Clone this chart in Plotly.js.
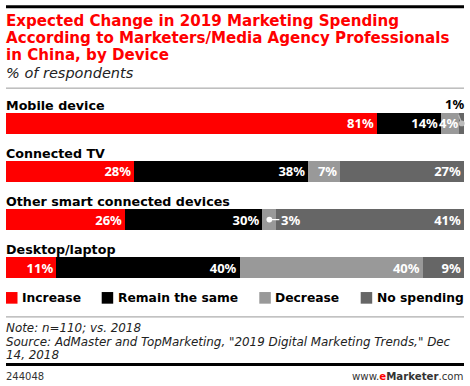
<!DOCTYPE html>
<html><head><meta charset="utf-8">
<script src="https://cdn.plot.ly/plotly-3.0.1.min.js"></script>
<style>html,body{margin:0;padding:0;background:#fff;overflow:hidden}#chart{width:470px;height:386px}</style>
</head><body><div id="chart"></div>
<script>
// ---- data ----
const categories = ["Mobile device", "Connected TV", "Other smart connected devices", "Desktop/laptop"];
const seriesNames = ["Increase", "Remain the same", "Decrease", "No spending"];
const increase   = [81, 28, 26, 11];
const remainSame = [14, 38, 30, 40];
const decrease   = [4, 7, 3, 40];
const noSpending = [1, 27, 41, 9];
const titleLines = ["Expected Change in 2019 Marketing Spending",
                    "According to Marketers/Media Agency Professionals",
                    "in China, by Device"];
const subtitle = "% of respondents";
const noteLines = ["Note: n=110; vs. 2018",
                   "Source: AdMaster and TopMarketing, \"2019 Digital Marketing Trends,\" Dec",
                   "14, 2018"];
const chartId = "244048";

// ---- style ----
const seriesColors = ["#ff0000", "#000000", "#999999", "#666666"];
const series = [increase, remainSame, decrease, noSpending];
const FONT = "DejaVu Sans";
const NUMFONT = "Noto Sans";
// labels placed by annotation: key "seriesIndex-categoryIndex"
const callouts = {
  "3-0": {arrow: true, ax: -7, ay: -19, color: "#000000", line: "#bbbbbb"},
  "2-2": {arrow: true, ax: 21, ay: 0, color: "#ffffff", line: "#ffffff"},
  "2-0": {arrow: false, color: "#ffffff"}
};

const T = 109.3, H = 172.4, L = 6, W = 458;
const py = y => (T + H - y) / H;
const px = x => (x - L) / W;
const yIdx = categories.map((c, i) => i);

const traces = series.map((vals, s) => ({
  type: "bar", orientation: "h", name: seriesNames[s],
  x: vals, y: yIdx, width: 0.449,
  marker: {color: seriesColors[s], line: {width: 0}},
  text: vals.map((v, i) => callouts[s + "-" + i] ? "" : v + "%"),
  textposition: "inside", insidetextanchor: "end", textangle: 0,
  constraintext: "none",
  insidetextfont: {family: NUMFONT, size: 13, color: "#ffffff", weight: 700},
  hoverinfo: "skip", showlegend: false, cliponaxis: false
}));

const annotations = [];
const shapes = [];

// category labels
categories.forEach((c, i) => annotations.push({
  x: 0, xref: "x", y: i, yref: "y", xanchor: "left", yanchor: "middle",
  yshift: 18.1, xshift: -2, text: "<b>" + c + "</b>", showarrow: false,
  font: {family: FONT, size: 12.7, color: "#000"}
}));

// callouts
Object.keys(callouts).forEach(k => {
  const [s, i] = k.split("-").map(Number);
  let start = 0;
  for (let j = 0; j < s; j++) start += series[j][i];
  const c = callouts[k];
  if (c.arrow) {
    annotations.push({
      x: start + series[s][i] / 2, xref: "x", y: i, yref: "y",
      ax: c.ax, ay: c.ay, showarrow: true, arrowhead: 6, arrowsize: 1.2,
      arrowwidth: 1.2, arrowcolor: c.line, standoff: 0,
      text: "<b>" + series[s][i] + "%</b>",
      font: {family: NUMFONT, size: 13, color: c.color}
    });
  } else {
    annotations.push({
      x: start + series[s][i], xref: "x", y: i, yref: "y",
      xanchor: "right", yanchor: "middle", xshift: 1, showarrow: false,
      text: "<b>" + series[s][i] + "%</b>",
      font: {family: NUMFONT, size: 13, color: c.color}
    });
  }
});

// title
const titleMid = [21.3, 38.6, 55.9];
titleLines.forEach((t, i) => annotations.push({
  x: px(6), xref: "paper", y: py(titleMid[i]), yref: "paper",
  xanchor: "left", yanchor: "middle", xshift: -2, showarrow: false,
  text: "<b>" + t + "</b>", font: {family: FONT, size: 15.1, color: "#ff0000"}
}));
annotations.push({
  x: px(6), xref: "paper", y: py(73.3), yref: "paper", xanchor: "left", yanchor: "middle",
  xshift: -2, showarrow: false, text: "<i>" + subtitle + "</i>",
  font: {family: FONT, size: 14.5, color: "#222"}
});

// legend
const legendX = [6, 101.7, 259.3, 360.7];
seriesNames.forEach((n, s) => {
  shapes.push({type: "rect", xref: "paper", yref: "paper",
    x0: px(legendX[s]), x1: px(legendX[s] + 11.5), y0: py(303.3), y1: py(291.7),
    fillcolor: seriesColors[s], line: {width: 0}});
  annotations.push({x: px(legendX[s] + 16), xref: "paper", y: py(297.7), yref: "paper",
    xanchor: "left", yanchor: "middle", xshift: -2, showarrow: false,
    text: "<b>" + n + "</b>", font: {family: FONT, size: 12.3, color: "#000"}});
});

// notes
const noteMid = [327.4, 341.2, 354.7];
noteLines.forEach((t, i) => annotations.push({
  x: px(6), xref: "paper", y: py(noteMid[i]), yref: "paper", xanchor: "left", yanchor: "middle",
  xshift: -2, showarrow: false, text: "<i>" + t + "</i>",
  font: {family: FONT, size: 11.9, color: "#222"}
}));
// footer
annotations.push({x: px(6), xref: "paper", y: py(375.5), yref: "paper", xanchor: "left", yanchor: "middle",
  xshift: -2, showarrow: false, text: chartId, font: {family: FONT, size: 10, color: "#333"}});
annotations.push({x: px(464), xref: "paper", y: py(375.5), yref: "paper", xanchor: "right", yanchor: "middle",
  xshift: 2, showarrow: false,
  text: "www.<b><span style=\"color:#ff0000\">e</span>Marketer</b>.com",
  font: {family: FONT, size: 10.2, color: "#333"}});

// rules
const rule = (y, w, c) => shapes.push({type: "line", xref: "paper", yref: "paper",
  x0: px(6), x1: px(464), y0: py(y), y1: py(y), line: {color: c, width: w}});
rule(7.5, 3, "#000");
rule(88.5, 1, "#999");
rule(316.5, 1, "#999");
rule(364, 3, "#000");

const layout = {
  width: 470, height: 386, barmode: "stack",
  margin: {l: L, r: 470 - L - W, t: T, b: 386 - T - H, pad: 0},
  paper_bgcolor: "#fff", plot_bgcolor: "#fff",
  xaxis: {range: [0, 100], visible: false, fixedrange: true},
  yaxis: {range: [3.3, -0.3], visible: false, fixedrange: true},
  showlegend: false, annotations: annotations, shapes: shapes,
  font: {family: FONT}
};
Plotly.newPlot("chart", traces, layout, {displayModeBar: false, staticPlot: true});
</script></body></html>
